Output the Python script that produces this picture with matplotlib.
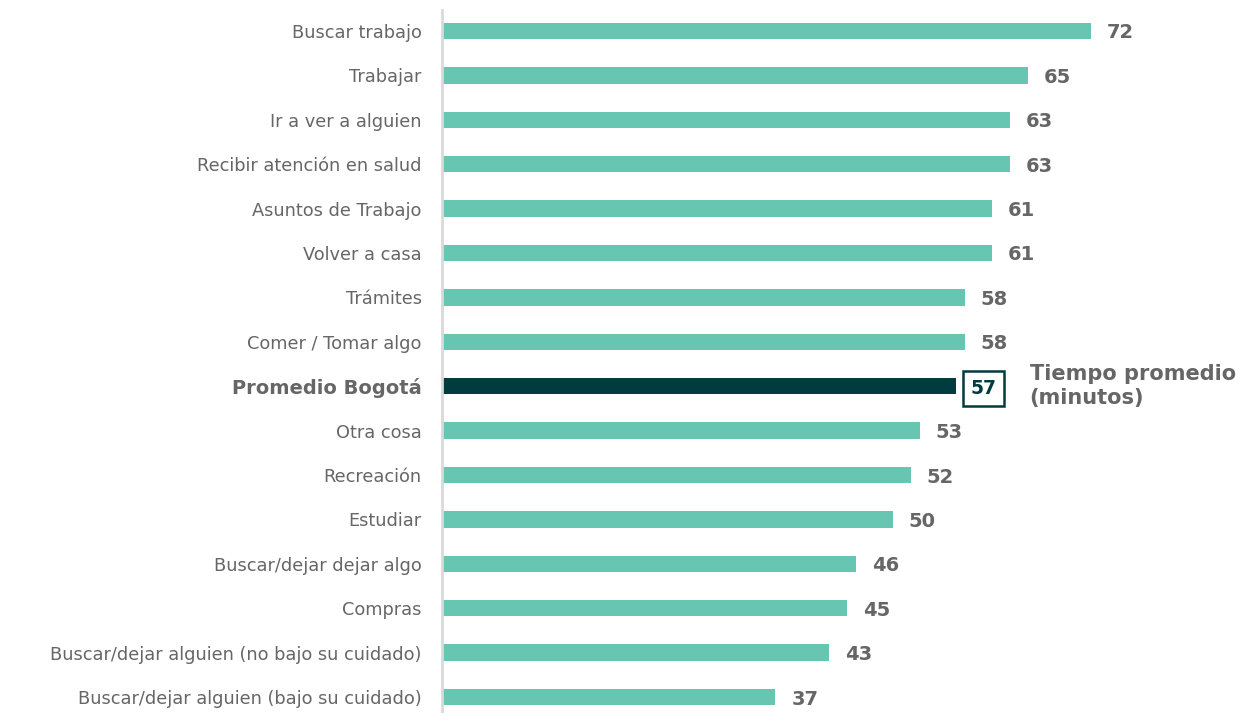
import matplotlib.pyplot as plt

categorias = ["Buscar trabajo", "Trabajar", "Ir a ver a alguien", "Recibir atención en salud",
              "Asuntos de Trabajo", "Volver a casa", "Trámites", "Comer / Tomar algo",
              "Promedio Bogotá", "Otra cosa", "Recreación", "Estudiar",
              "Buscar/dejar dejar algo", "Compras", "Buscar/dejar alguien (no bajo su cuidado)",
              "Buscar/dejar alguien (bajo su cuidado)"]
minutos = [72, 65, 63, 63, 61, 61, 58, 58, 57, 53, 52, 50, 46, 45, 43, 37]
promedio = "Promedio Bogotá"

verde = "#66C6B1"
oscuro = "#003B40"
gris = "#666666"

plt.rcParams['font.family'] = ['DejaVu Sans']

fig = plt.figure(figsize=(12.46, 7.13), dpi=100)
ax = fig.add_axes([442 / 1246, 0, 1 - 442 / 1246, 1])

pos = list(range(len(categorias)))
colores = [oscuro if c == promedio else verde for c in categorias]
ax.barh(pos, minutos, height=0.37, color=colores)

ax.set_xlim(0, (1246 - 442) / 9.01)
ax.set_ylim(15.36, -0.698)

for p, c, v in zip(pos, categorias, minutos):
    if c == promedio:
        ax.annotate(str(v), (v, p), xytext=(28, 0), textcoords="offset pixels",
                    ha="center", va="center_baseline", fontsize=13.5, fontweight="bold", color=oscuro,
                    bbox=dict(boxstyle="square,pad=0.42", fc="white", ec=oscuro, lw=1.8))
    else:
        ax.annotate(str(v), (v, p), xytext=(16, 0), textcoords="offset pixels",
                    ha="left", va="center_baseline", fontsize=14, fontweight="bold", color=gris)

i_prom = categorias.index(promedio)
ax.annotate("Tiempo promedio\n(minutos)", (minutos[i_prom], i_prom), xytext=(74, 0),
            textcoords="offset pixels", ha="left", va="center", fontsize=15,
            fontweight="bold", color=gris, linespacing=1.25)

ax.set_yticks(pos)
ax.set_yticklabels(categorias, fontsize=12.8, color=gris)
for lab in ax.get_yticklabels():
    if lab.get_text() == promedio:
        lab.set_fontweight("bold")
        lab.set_fontsize(14)
ax.tick_params(axis="y", length=0, pad=14.5)
ax.set_xticks([])

for s in ["top", "right", "bottom"]:
    ax.spines[s].set_visible(False)
ax.spines["left"].set_color("#d9d9d9")
ax.spines["left"].set_linewidth(2)
ax.spines["left"].set_bounds(-0.48, 15.5)

fig.savefig("out.png", dpi=100)
